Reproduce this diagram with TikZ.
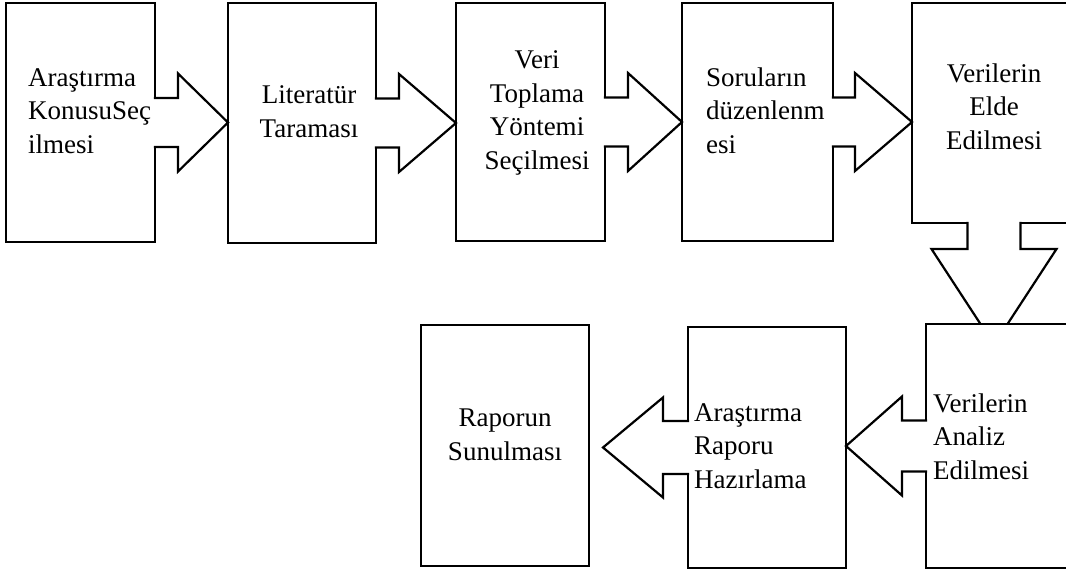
\documentclass[tikz,border=0pt]{standalone}
\usepackage{fontspec}
\setmainfont{Liberation Serif}
\usetikzlibrary{calc}

\begin{document}
\begin{tikzpicture}[x=1pt,y=-1pt,line width=2.2pt,
  kutu/.style={draw,fill=white,inner sep=0pt,outer sep=0pt,anchor=north west},
  blokok/.style={draw,fill=white,line join=miter},
  yazi/.style={inner sep=0pt,font=\fontsize{27}{33.5}\selectfont}]
\useasboundingbox (0,0) rectangle (1066,574);
\clip (0,0) rectangle (1066,574);
\node[kutu,minimum width=149pt,minimum height=239pt](K1) at (6,3){};
\node[kutu,minimum width=148pt,minimum height=240pt](K2) at (228,3){};
\node[kutu,minimum width=149pt,minimum height=238pt](K3) at (456,3){};
\node[kutu,minimum width=151pt,minimum height=238pt](K4) at (682,3){};
\node[kutu,minimum width=164pt,minimum height=220pt](K5) at (912,3){};
\filldraw[blokok] ($(K1.east)+(-1.1,-24.5)$) -- ++(24.1,0) -- ++(0,-24.5) -- (K1.east -| K2.west) -- ($(K1.east)+(23,49)$) -- ++(0,-24.5) -- ++(-24.1,0);
\filldraw[blokok] ($(K2.east)+(-1.1,-24.5)$) -- ++(24.1,0) -- ++(0,-24.5) -- (K2.east -| K3.west) -- ($(K2.east)+(23,49)$) -- ++(0,-24.5) -- ++(-24.1,0);
\filldraw[blokok] ($(K3.east)+(-1.1,-24.5)$) -- ++(24.1,0) -- ++(0,-24.5) -- (K3.east -| K4.west) -- ($(K3.east)+(23,49)$) -- ++(0,-24.5) -- ++(-24.1,0);
\filldraw[blokok] ($(K4.east)+(-1.1,-24.5)$) -- ++(23.1,0) -- ++(0,-24.5) -- (K4.east -| K5.west) -- ($(K4.east)+(22,49)$) -- ++(0,-24.5) -- ++(-23.1,0);
\filldraw[blokok] ($(K5.south)+(-26.5,-1.1)$) -- ++(0,27.1) -- ++(-36,0) -- ($(K5.south)+(0,121.7)$) -- ($(K5.south)+(62.5,26)$) -- ++(-36,0) -- ++(0,-27.1);
\node[kutu,minimum width=160pt,minimum height=244pt](K6) at (926,324){};
\node[kutu,minimum width=158pt,minimum height=241pt](K7) at (688,327){};
\node[kutu,minimum width=168pt,minimum height=241pt](K8) at (421,325){};
\filldraw[blokok] ($(K6.west)+(1.1,-25.5)$) -- ++(-25.1,0) -- ++(0,-24) -- (K6.west -| K7.east) -- ($(K6.west)+(-24,49.5)$) -- ++(0,-24) -- ++(25.1,0);
\filldraw[blokok] ($(K7.west)+(1.1,-26.5)$) -- ++(-26.1,0) -- ++(0,-23.5) -- ($(K7.west)+(-85,0)$) -- ($(K7.west)+(-25,50)$) -- ++(0,-23.5) -- ++(26.1,0);
\node[yazi,anchor=base west,align=left](T1) at (27,153){Araştırma\\KonusuSeç\\ilmesi};
\node[yazi,anchor=base,align=center](T2) at (309,137){Literatür\\Taraması};
\node[yazi,anchor=base,align=center](T3) at (537,169){Veri\\Toplama\\Yöntemi\\Seçilmesi};
\node[yazi,anchor=base west,align=left](T4) at (705,153){Soruların\\düzenlenm\\esi};
\node[yazi,anchor=base,align=center](T5) at (994,149){Verilerin\\Elde\\Edilmesi};
\node[yazi,anchor=base west,align=left](T6) at (932,479){Verilerin\\Analiz\\Edilmesi};
\node[yazi,anchor=base west,align=left](T7) at (693,488){Araştırma\\Raporu\\Hazırlama};
\node[yazi,anchor=base,align=center](T8) at (505,460){Raporun\\Sunulması};
\end{tikzpicture}
\end{document}
